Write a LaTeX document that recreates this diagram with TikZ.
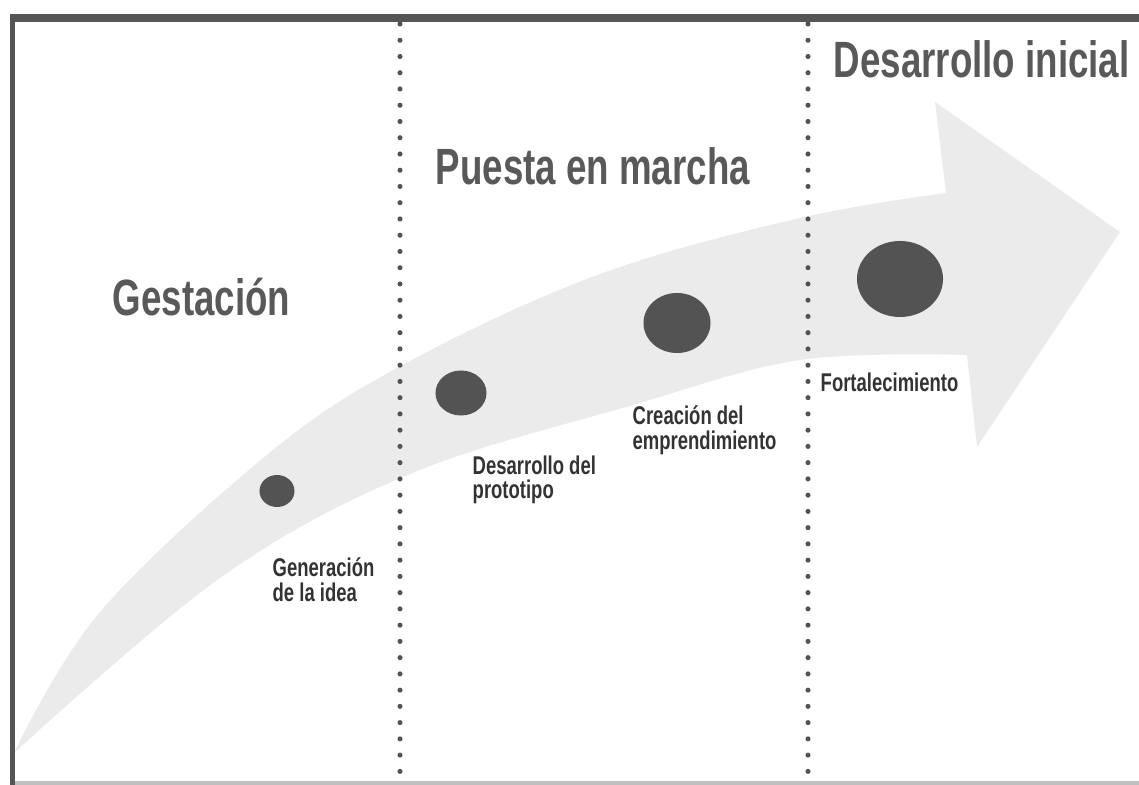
\documentclass[tikz,border=0pt]{standalone}
\usepackage{fontspec}
\setmainfont{Liberation Sans}[FakeStretch=0.72]
\usetikzlibrary{shapes.geometric}

\definecolor{framegray}{HTML}{555555}
\definecolor{phasegray}{HTML}{595959}
\definecolor{stagegray}{HTML}{535353}
\definecolor{labelgray}{HTML}{333333}
\definecolor{bandgray}{HTML}{EBEBEB}

\begin{document}
\begin{tikzpicture}[x=0.01cm,y=-0.01cm,
    phase node/.style={anchor=base west,inner sep=0pt,
      font=\fontsize{14.5}{16}\selectfont\bfseries,text=phasegray},
    stage node/.style={ellipse,fill=stagegray,inner sep=0pt},
    label node/.style={anchor=north west,inner sep=0pt,align=left,
      font=\fontsize{7.3}{7}\selectfont\bfseries,text=labelgray},
    divider/.style={draw=stagegray,line width=1.45pt,line cap=round,
      dash pattern=on 0pt off 4.62pt}]
    \useasboundingbox (0,0) rectangle (1139,785);

    % curved arrow
    \fill[bandgray] (14,753)
      --plot[smooth,tension=0.6] coordinates {(14,753) (100,612) (273,450) (410,361) (600,274) (800,218) (946,193)}
      -- (935,102) -- (1120,232) -- (977,447) -- (967,355)
      --plot[smooth,tension=0.6] coordinates {(967,355) (800,360) (633,405) (410,474) (220,578) (14,753)}
      -- cycle;

    % frame
    \draw[gray!50,line width=1pt] (12,783) -- (1139,783);
    \draw[framegray,line width=1.5pt] (12.5,785) -- (12.5,18);
    \draw[framegray,line width=2pt] (10,18) -- (1139,18);

    \coordinate (d1top) at (400,24);
    \coordinate (d1bot) at (400,783);
    \coordinate (d2top) at (808,24);
    \coordinate (d2bot) at (808,783);
    \draw[divider] (d1top) -- (d1bot);
    \draw[divider] (d2top) -- (d2bot);

    \node[phase node] (GES) at (112,315) {Gestación};
    \node[phase node] (PUE) at (435,185) {Puesta en marcha};
    \node[phase node] (DES) at (833,78) {Desarrollo inicial};

    \node[stage node,minimum width=3.5mm,minimum height=3.2mm] (S1) at (277,491) {};
    \node[stage node,minimum width=5.1mm,minimum height=4.5mm] (S2) at (461,393) {};
    \node[stage node,minimum width=6.7mm,minimum height=6.0mm] (S3) at (677,323) {};
    \node[stage node,minimum width=8.6mm,minimum height=7.6mm] (S4) at (900,279) {};

    \node[label node] (L1) at (272,557) {Generación\\de la idea};
    \node[label node] (L2) at (472,455) {Desarrollo del\\prototipo};
    \node[label node] (L3) at (632,405) {Creación del\\emprendimiento};
    \node[label node] (L4) at (820,372) {Fortalecimiento};
\end{tikzpicture}
\end{document}
